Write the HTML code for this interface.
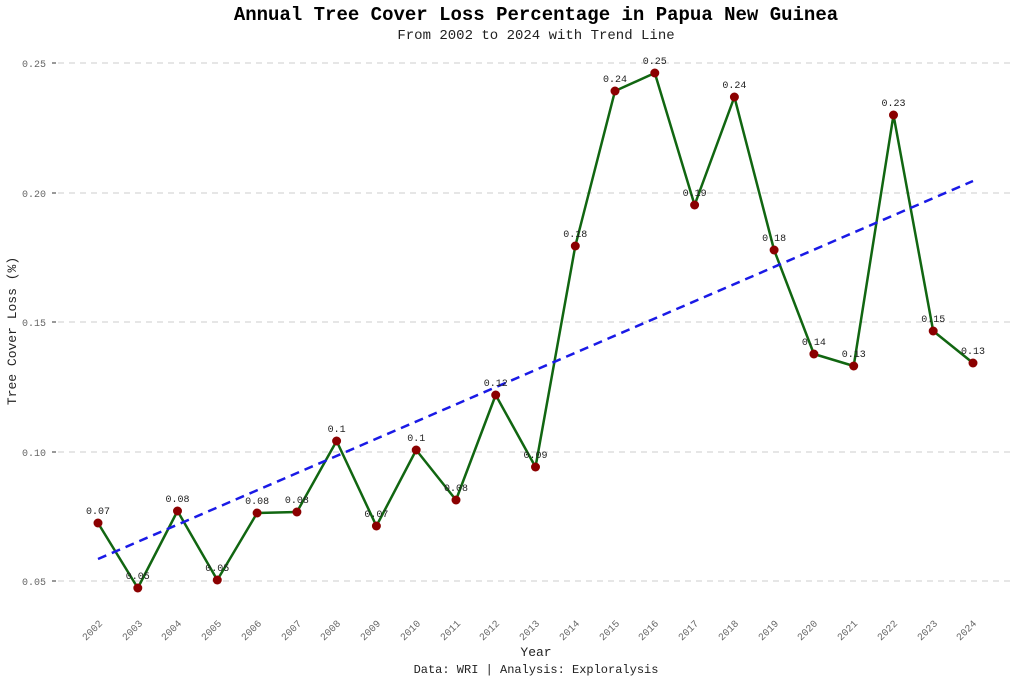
<!DOCTYPE html>
<html><head><meta charset="utf-8"><style>
body{margin:0;background:#fff}
svg{display:block;font-family:"Liberation Mono",monospace}
</style></head><body>
<svg width="1024" height="682" viewBox="0 0 1024 682">
<text x="536" y="20" text-anchor="middle" font-size="19" font-weight="bold" fill="#000">Annual Tree Cover Loss Percentage in Papua New Guinea</text>
<text x="536" y="39" text-anchor="middle" font-size="14" fill="#222">From 2002 to 2024 with Trend Line</text>
<g stroke="#ccc" stroke-dasharray="6,5" stroke-width="1">
<line x1="58" x2="1014" y1="63" y2="63"/><line x1="58" x2="1014" y1="193" y2="193"/><line x1="58" x2="1014" y1="322" y2="322"/><line x1="58" x2="1014" y1="452" y2="452"/><line x1="58" x2="1014" y1="581" y2="581"/>
</g>
<g stroke="#333" stroke-width="1"><line x1="52" x2="56" y1="63" y2="63"/><line x1="52" x2="56" y1="193" y2="193"/><line x1="52" x2="56" y1="322" y2="322"/><line x1="52" x2="56" y1="452" y2="452"/><line x1="52" x2="56" y1="581" y2="581"/></g>
<g font-size="10" fill="#666" text-anchor="end">
<text x="46" y="67">0.25</text><text x="46" y="197">0.20</text><text x="46" y="326">0.15</text><text x="46" y="456">0.10</text><text x="46" y="585">0.05</text>
</g>
<text transform="translate(16,331) rotate(-90)" text-anchor="middle" font-size="13" fill="#222">Tree Cover Loss (%)</text>
<text x="536" y="656" text-anchor="middle" font-size="13" fill="#222">Year</text>
<text x="536" y="673" text-anchor="middle" font-size="12" fill="#222">Data: WRI | Analysis: Exploralysis</text>
<g font-size="10" fill="#666" text-anchor="end">
<text transform="translate(103,624) rotate(-45)">2002</text>
<text transform="translate(143,624) rotate(-45)">2003</text>
<text transform="translate(182,624) rotate(-45)">2004</text>
<text transform="translate(222,624) rotate(-45)">2005</text>
<text transform="translate(262,624) rotate(-45)">2006</text>
<text transform="translate(302,624) rotate(-45)">2007</text>
<text transform="translate(341,624) rotate(-45)">2008</text>
<text transform="translate(381,624) rotate(-45)">2009</text>
<text transform="translate(421,624) rotate(-45)">2010</text>
<text transform="translate(461,624) rotate(-45)">2011</text>
<text transform="translate(500,624) rotate(-45)">2012</text>
<text transform="translate(540,624) rotate(-45)">2013</text>
<text transform="translate(580,624) rotate(-45)">2014</text>
<text transform="translate(620,624) rotate(-45)">2015</text>
<text transform="translate(659,624) rotate(-45)">2016</text>
<text transform="translate(699,624) rotate(-45)">2017</text>
<text transform="translate(739,624) rotate(-45)">2018</text>
<text transform="translate(779,624) rotate(-45)">2019</text>
<text transform="translate(818,624) rotate(-45)">2020</text>
<text transform="translate(858,624) rotate(-45)">2021</text>
<text transform="translate(898,624) rotate(-45)">2022</text>
<text transform="translate(938,624) rotate(-45)">2023</text>
<text transform="translate(977,624) rotate(-45)">2024</text>
</g>
<polyline fill="none" stroke="#116611" stroke-width="2.5" stroke-linejoin="round" points="98,523 137.8,588 177.5,511 217.3,580 257.1,513 296.9,512 336.6,441 376.4,526 416.2,450 456,500 495.7,395 535.5,467 575.3,246 615,91 654.8,73 694.6,205 734.4,97 774.1,250 813.9,354 853.7,366 893.5,115 933.2,331 973,363"/>
<line x1="98" y1="559" x2="973" y2="181" stroke="#1a1ae6" stroke-width="2.5" stroke-dasharray="9,6"/>
<g fill="#8b0000">
<circle cx="98" cy="523" r="4.5"/><circle cx="137.8" cy="588" r="4.5"/><circle cx="177.5" cy="511" r="4.5"/><circle cx="217.3" cy="580" r="4.5"/><circle cx="257.1" cy="513" r="4.5"/><circle cx="296.9" cy="512" r="4.5"/><circle cx="336.6" cy="441" r="4.5"/><circle cx="376.4" cy="526" r="4.5"/><circle cx="416.2" cy="450" r="4.5"/><circle cx="456" cy="500" r="4.5"/><circle cx="495.7" cy="395" r="4.5"/><circle cx="535.5" cy="467" r="4.5"/><circle cx="575.3" cy="246" r="4.5"/><circle cx="615" cy="91" r="4.5"/><circle cx="654.8" cy="73" r="4.5"/><circle cx="694.6" cy="205" r="4.5"/><circle cx="734.4" cy="97" r="4.5"/><circle cx="774.1" cy="250" r="4.5"/><circle cx="813.9" cy="354" r="4.5"/><circle cx="853.7" cy="366" r="4.5"/><circle cx="893.5" cy="115" r="4.5"/><circle cx="933.2" cy="331" r="4.5"/><circle cx="973" cy="363" r="4.5"/>
</g>
<g font-size="10" fill="#222" text-anchor="middle">
<text x="98" y="514">0.07</text><text x="137.8" y="579">0.05</text><text x="177.5" y="502">0.08</text><text x="217.3" y="571">0.05</text><text x="257.1" y="504">0.08</text><text x="296.9" y="503">0.08</text><text x="336.6" y="432">0.1</text><text x="376.4" y="517">0.07</text><text x="416.2" y="441">0.1</text><text x="456" y="491">0.08</text><text x="495.7" y="386">0.12</text><text x="535.5" y="458">0.09</text><text x="575.3" y="237">0.18</text><text x="615" y="82">0.24</text><text x="654.8" y="64">0.25</text><text x="694.6" y="196">0.19</text><text x="734.4" y="88">0.24</text><text x="774.1" y="241">0.18</text><text x="813.9" y="345">0.14</text><text x="853.7" y="357">0.13</text><text x="893.5" y="106">0.23</text><text x="933.2" y="322">0.15</text><text x="973" y="354">0.13</text>
</g>
</svg>
</body></html>
